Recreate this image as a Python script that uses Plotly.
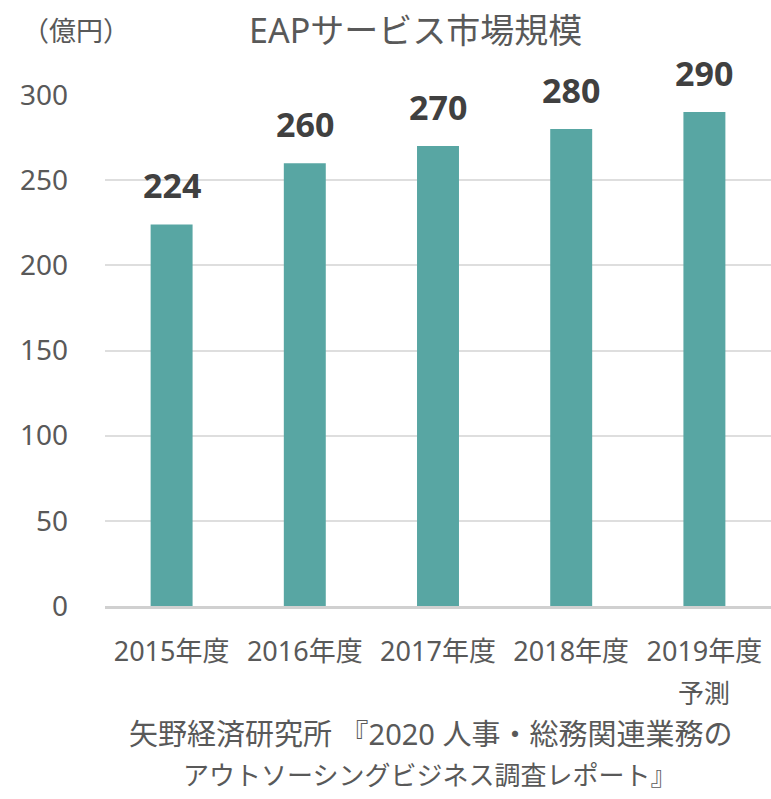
import plotly.graph_objects as go

categories = ["2015年度", "2016年度", "2017年度", "2018年度", "2019年度"]
values = [224, 260, 270, 280, 290]
y_ticks = [0, 50, 100, 150, 200, 250, 300]

FONT = "Noto Sans, Noto Sans CJK JP"
W, H = 771, 799
L, R, T, B = 105, 0, 95, 193

fig = go.Figure(go.Bar(
    x=categories, y=values,
    marker=dict(color="#58A6A3", line=dict(width=0)),
    cliponaxis=False, width=0.315, hoverinfo="skip",
))

fig.update_layout(
    width=W, height=H,
    margin=dict(l=L, r=R, t=T, b=B),
    paper_bgcolor="white", plot_bgcolor="white",
    showlegend=False,
    font=dict(family=FONT, color="#595959"),
)
fig.update_yaxes(range=[0, 300], tickvals=y_ticks, showgrid=True, gridcolor="#dedede",
                 gridwidth=2, zeroline=False, showline=False, ticks="",
                 tickfont=dict(size=28, color="#595959"), ticklabelstandoff=36,
                 automargin=False)
fig.update_xaxes(showline=True, linecolor="#d0d0d0", linewidth=3, ticks="",
                 tickfont=dict(size=27, color="#595959"), ticklabelstandoff=20,
                 automargin=False)

# data labels above bars
for c, v in zip(categories, values):
    fig.add_annotation(x=c, y=v, xref="x", yref="y", text=f"<b>{v}</b>",
                       showarrow=False, yanchor="bottom", yshift=14,
                       font=dict(size=34, color="#404040", family=FONT))

ann = [
    dict(text="EAPサービス市場規模", x=415, y=30, size=34),
    dict(text="（億円）", x=76, y=30, size=27),
    dict(text="予測", x=704, y=693, size=26),
    dict(text="矢野経済研究所 『2020 人事・総務関連業務の", x=430, y=733, size=29),
    dict(text="アウトソーシングビジネス調査レポート』", x=429, y=775, size=26),
]
for a in ann:
    fig.add_annotation(text=a["text"],
                       x=(a["x"] - L) / (W - L - R),
                       y=(H - B - a["y"]) / (H - T - B),
                       xref="paper", yref="paper", showarrow=False,
                       xanchor="center", yanchor="middle",
                       font=dict(size=a["size"], color="#595959", family=FONT))

fig.write_html("out.html", config={"displayModeBar": False},
               post_script="document.body.style.margin='0';")
